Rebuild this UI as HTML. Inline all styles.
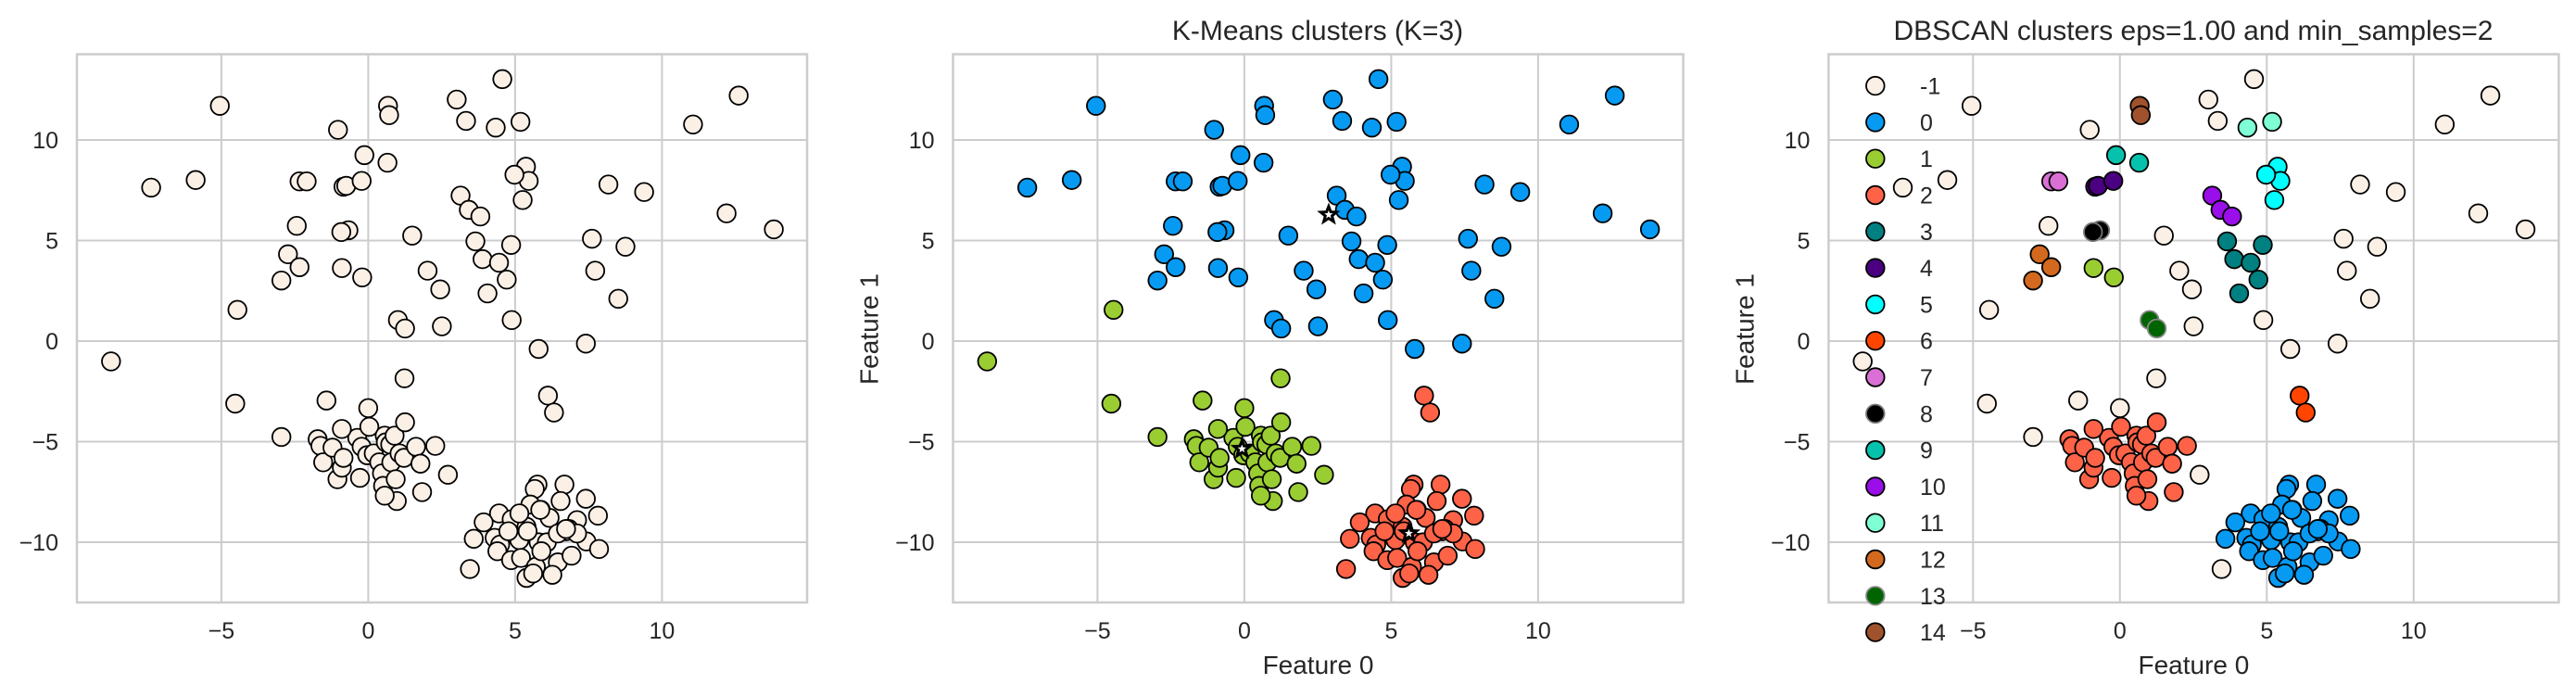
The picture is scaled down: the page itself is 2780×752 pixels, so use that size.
<!DOCTYPE html>
<html><head><meta charset="utf-8"><style>
html,body{margin:0;padding:0;background:#fff;}
svg{display:block;font-family:"Liberation Sans",sans-serif;}
</style></head><body>
<svg id="s" width="2780" height="752" xmlns="http://www.w3.org/2000/svg"></svg>
<script>
(function(){
const NS="http://www.w3.org/2000/svg";
const s=document.getElementById('s');
function el(t,a,txt){const e=document.createElementNS(NS,t);for(const k in a)e.setAttribute(k,a[k]);if(txt!=null)e.textContent=String(txt);s.appendChild(e);return e;}
const C={'-1':'#faf0e6','0':'#069af3','1':'#9acd32','2':'#ff6347','3':'#008080','4':'#4b0082','5':'#00ffff','6':'#ff4500','7':'#da70d6','8':'#000000','9':'#06c2ac','10':'#9a0eea','11':'#7fffd4','12':'#d2691e','13':'#006400','14':'#a0522d'};
const EC={'8':'#777','13':'#888'};
const P=[
[400,238,0,-1],[275,422,0,-1],[356,405,0,-1],[202,813,1,-1],[432,697,1,-1],[428,908,1,-1],[512,983,1,-1],[594,901,1,-1],[670,918,1,-1],[736,851,1,-1],
[615,292,0,-1],[706,238,0,14],[708,259,0,14],[663,349,0,9],[705,366,0,9],[545,408,0,7],[558,408,0,7],[625,420,0,4],[630,418,0,4],[658,407,0,4],
[540,508,0,-1],[634,518,0,8],[621,522,0,8],[524,572,0,12],[545,601,0,12],[512,631,0,12],[622,603,0,1],[659,624,0,1],[724,720,0,13],[737,739,0,13],
[750,530,0,-1],[778,609,0,-1],[801,651,0,-1],[804,734,0,-1],[831,224,0,-1],[848,272,0,-1],[914,178,0,-1],[902,287,0,11],[947,274,0,11],
[838,440,0,10],[853,472,0,10],[874,487,0,10],[957,375,0,5],[962,407,0,5],[936,393,0,5],[951,450,0,5],
[865,543,0,3],[930,551,0,3],[878,583,0,3],[908,591,0,3],[922,629,0,3],[887,660,0,3],[931,720,0,-1],[980,785,0,-1],[1066,773,0,-1],
[997,890,2,6],[1008,928,2,6],[1107,415,0,-1],[1172,432,0,-1],[1077,537,0,-1],[1138,555,0,-1],[1083,609,0,-1],[1125,672,0,-1],
[1261,280,0,-1],[1344,215,0,-1],[1322,480,0,-1],[1408,516,0,-1],[855,1280,2,-1],[815,1068,1,-1]
];
const LL=[[578,988],[583,1003],[588,1040],[650,985],[605,1007],[614,1078],[622,965],[622,1052],[625,1030],[655,1075],[658,1005],[668,1024],[672,960],[680,1020],[690,1040],[695,1065],[697,1093],[700,980],[702,995],[710,1000],[712,1040],[718,980],[720,1078],[722,1127],[727,1020],[737,950],[735,1030],[757,1005],[765,1043],[768,1107],[792,1003],[700,1115]];
LL.forEach(function(p){P.push([p[0],p[1],1,2]);});
const LR=[[978,1090],[1027,1090],[973,1100],[1020,1127],[1066,1122],[1088,1160],[965,1135],[984,1147],[908,1155],[880,1175],[931,1168],[958,1185],[945,1155],[1000,1165],[1050,1170],[1035,1190],[1030,1195],[862,1212],[900,1210],[910,1225],[945,1215],[980,1220],[995,1220],[1067,1218],[1090,1235],[905,1240],[930,1260],[948,1255],[975,1275],[1015,1265],[1040,1250],[1005,1293],[958,1300],[970,1290],[960,1195],[1015,1200],[1050,1200],[985,1240],[925,1195],[983,1147],[1030,1190]];
LR.forEach(function(p){P.push([p[0],p[1],2,0]);});
const KC=['#069af3','#9acd32','#ff6347'];
const lefts=[83,1028.5,1973.4], W=788, TOPY=58.5, BOTY=650, x0=314.4, sx=31.7, y0=368, sy=21.7;
lefts.forEach(function(L,i){
  [-5,0,5,10].forEach(function(v){const x=L+x0+v*sx;el('line',{x1:x,y1:TOPY,x2:x,y2:BOTY,stroke:'#cccccc','stroke-width':2});
    el('text',{x:x,y:689,'font-size':25,'text-anchor':'middle',fill:'#262626'},v<0?'\u2212'+(-v):v);});
  [-10,-5,0,5,10].forEach(function(v){const y=y0-v*sy;el('line',{x1:L,y1:y,x2:L+W,y2:y,stroke:'#cccccc','stroke-width':2});
    el('text',{x:L-20,y:y+9,'font-size':25,'text-anchor':'end',fill:'#262626'},v<0?'\u2212'+(-v):v);});
  el('rect',{x:L,y:TOPY,width:W,height:BOTY-TOPY,fill:'none',stroke:'#cccccc','stroke-width':2.5});
  P.forEach(function(p){const x=L+p[0]/1.686-83, y=p[1]/2.085;
    let f,e='#000';
    if(i==0)f='#faf0e6';else if(i==1)f=KC[p[2]];else{f=C[String(p[3])];if(EC[String(p[3])])e=EC[String(p[3])];}
    el('circle',{cx:x,cy:y,r:9.8,fill:f,stroke:e,'stroke-width':1.8});});
  if(i>0){
    el('text',{x:L+W/2,y:727,'font-size':28,'text-anchor':'middle',fill:'#262626'},'Feature 0');
    const yx=L-81;el('text',{x:yx,y:355,'font-size':28,'text-anchor':'middle',fill:'#262626',transform:'rotate(-90 '+yx+' 355)'},'Feature 1');
  }
});
[[2.87,6.28],[-0.08,-5.36],[5.6,-9.56]].forEach(function(c){
  const cx=1028.5+x0+c[0]*sx, cy=y0-c[1]*sy; let pts=[];
  for(let k=0;k<10;k++){const a=-Math.PI/2+k*Math.PI/5, r=k%2?3.8:9; pts.push((cx+r*Math.cos(a)).toFixed(1)+','+(cy+r*Math.sin(a)).toFixed(1));}
  el('polygon',{points:pts.join(' '),fill:'#fff',stroke:'#000','stroke-width':3,'stroke-linejoin':'miter'});
});
el('text',{x:1422,y:43,'font-size':30,'text-anchor':'middle',fill:'#262626'},'K-Means clusters (K=3)');
el('text',{x:2367,y:43,'font-size':30,'text-anchor':'middle',fill:'#262626'},'DBSCAN clusters eps=1.00 and min_samples=2');
for(let k=-1;k<=14;k++){const y=92.6+(k+1)*39.3;
  el('circle',{cx:2023.8,cy:y,r:9.8,fill:C[String(k)],stroke:EC[String(k)]||'#000','stroke-width':1.8});
  el('text',{x:2072,y:y+9,'font-size':25,fill:'#262626'},String(k));}
})();
</script>
</body></html>
